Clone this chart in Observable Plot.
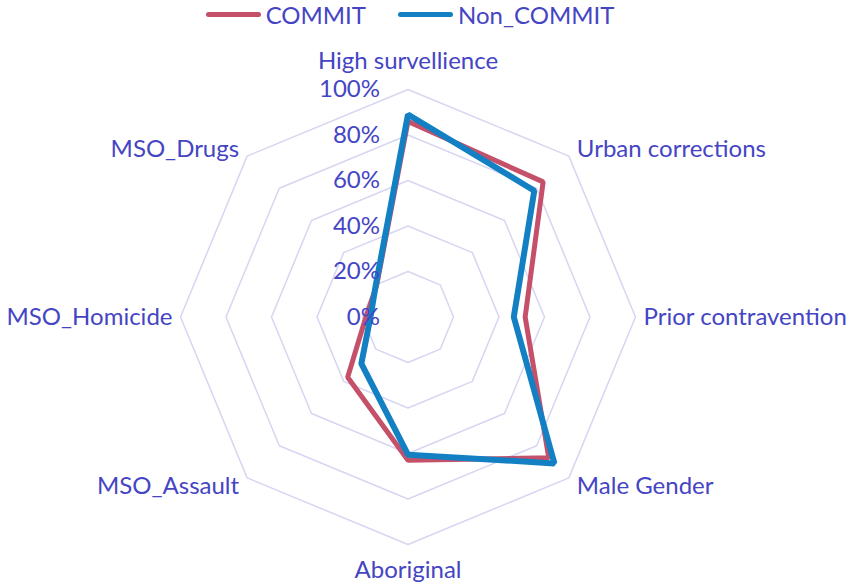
<!DOCTYPE html>
<html>
<head>
<meta charset="utf-8">
<script src="https://cdn.jsdelivr.net/npm/d3@7"></script>
<script src="https://cdn.jsdelivr.net/npm/@observablehq/plot@0.6"></script>
<style>
  body { margin: 0; background: #fff; font-family: Lato, sans-serif; }
  #legend { height: 28px; display: flex; justify-content: center; align-items: center; font-size: 24px; color: #4545c4; padding-right: 30px; }
  .item { display: flex; align-items: center; margin: 0 16px; }
  .sw { width: 55px; height: 5px; border-radius: 3px; margin-right: 5px; }
</style>
</head>
<body>
<div id="legend"></div>
<div id="chart"></div>
<script>
const categories = ["High survellience", "Urban corrections", "Prior contravention", "Male Gender", "Aboriginal", "MSO_Assault", "MSO_Homicide", "MSO_Drugs"];
const commit = [86, 84, 51.5, 87.5, 63, 37.5, 18.5, 19.5];
const nonCommit = [89, 78.5, 46.5, 91, 60.5, 29, 16.5, 20];
const ringTicks = [20, 40, 60, 80, 100];
const tickValues = [0, 20, 40, 60, 80, 100];
const tickLabels = ["0%", "20%", "40%", "60%", "80%", "100%"];
const seriesNames = ["COMMIT", "Non_COMMIT"];
const seriesColors = ["#c4506a", "#1380c3"];

const R = 227.5;
const cx = 407.5, cy = 316.5 - 28;
const n = categories.length;
const ang = i => (i * 2 * Math.PI) / n;

const pts = (vals, name) => vals.map((v, i) => ({series: name, cat: categories[i], x: (v / 100) * Math.sin(ang(i)), y: (v / 100) * Math.cos(ang(i))}));
const dataC = pts(commit, seriesNames[0]);
const dataN = pts(nonCommit, seriesNames[1]);

const rings = ringTicks.flatMap(t => d3.range(n + 1).map(i => ({t, x: (t / 100) * Math.sin(ang(i % n)), y: (t / 100) * Math.cos(ang(i % n))})));

const labels = categories.map((c, i) => {
  const s = Math.sin(ang(i)), co = Math.cos(ang(i));
  let ox = 0, oy = 0, anchor = "middle";
  if (Math.abs(s) < 1e-6) { oy = co > 0 ? -28 : 26; }
  else {
    anchor = s > 0 ? "start" : "end";
    ox = s > 0 ? 8 : -8;
    if (Math.abs(co) > 1e-6) oy = co > 0 ? -7 : 8;
  }
  return {c, anchor, x: s + ox / R, y: co - oy / R};
});

const ticksData = tickValues.map((t, i) => ({x: 0, y: t / 100, label: tickLabels[i]}));

const legend = document.getElementById("legend");
seriesNames.forEach((s, i) => {
  const it = document.createElement("div");
  it.className = "item";
  it.innerHTML = `<span class="sw" style="background:${seriesColors[i]}"></span><span>${s}</span>`;
  legend.appendChild(it);
});

const chart = Plot.plot({
  width: 850,
  height: 558,
  margin: 0,
  x: {domain: [-1, 1], range: [cx - R, cx + R], axis: null},
  y: {domain: [-1, 1], range: [cy + R, cy - R], axis: null},
  style: {fontFamily: "Lato, sans-serif", fontSize: "24px", color: "#4545c4", background: "white"},
  marks: [
    Plot.line(rings, {x: "x", y: "y", z: "t", stroke: "#d6d6f2", strokeWidth: 1.5}),
    Plot.line(dataC, {x: "x", y: "y", curve: "linear-closed", stroke: seriesColors[0], strokeWidth: 5, strokeLinejoin: "miter"}),
    Plot.line(dataN, {x: "x", y: "y", curve: "linear-closed", stroke: seriesColors[1], strokeWidth: 6, strokeLinejoin: "miter"}),
    Plot.text(ticksData, {x: "x", y: "y", text: "label", textAnchor: "end", dx: -28, fontSize: 24, fill: "#4545c4"}),
    Plot.text(labels.filter(d => d.anchor === "middle"), {x: "x", y: "y", text: "c", textAnchor: "middle", fontSize: 24, fill: "#4545c4"}),
    Plot.text(labels.filter(d => d.anchor === "start"), {x: "x", y: "y", text: "c", textAnchor: "start", fontSize: 24, fill: "#4545c4"}),
    Plot.text(labels.filter(d => d.anchor === "end"), {x: "x", y: "y", text: "c", textAnchor: "end", fontSize: 24, fill: "#4545c4"})
  ]
});
document.getElementById("chart").appendChild(chart);
</script>
</body>
</html>
